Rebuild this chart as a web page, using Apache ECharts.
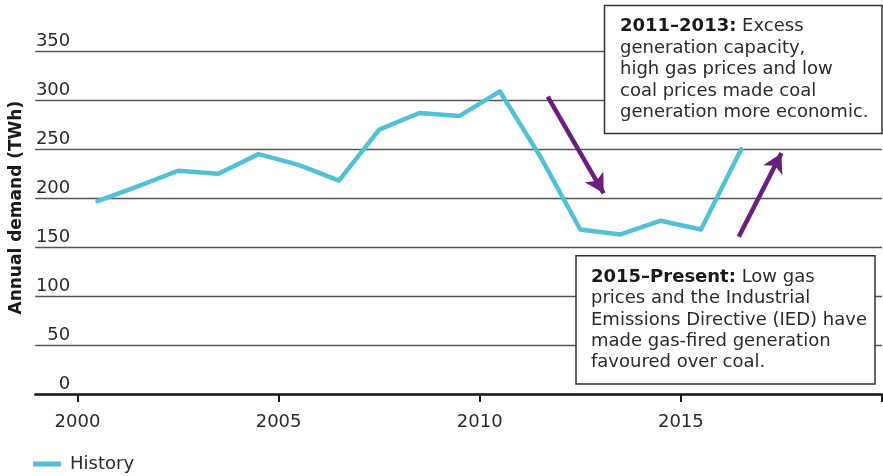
<!DOCTYPE html>
<html>
<head>
<meta charset="utf-8">
<script src="https://cdn.jsdelivr.net/npm/echarts@6/dist/echarts.min.js"></script>
<style>
html,body{margin:0;padding:0;background:#fff;}
#chart{width:883px;height:476px;}
</style>
</head>
<body>
<div id="chart"></div>
<script>
// ---- data ----
const years = [2000, 2001, 2002, 2003, 2004, 2005, 2006, 2007, 2008, 2009, 2010, 2011, 2012, 2013, 2014, 2015, 2016];
const history = [197, 212, 228, 225, 245, 234, 218, 270, 287, 284, 309, 243, 168, 163, 177, 168, 250];
const yTicks = [0, 50, 100, 150, 200, 250, 300, 350];
const xLabelYears = [2000, 2005, 2010, 2015];
const xTickYears = [2000, 2005, 2010, 2015, 2020];
const seriesName = 'History';
const yTitle = 'Annual demand (TWh)';
// annotation arrows in data space: [startYear, startValue, tipYear, tipValue]
const arrowDown = [2011.69, 303.7, 2013.08, 205];
const arrowUp = [2016.44, 160.7, 2017.5, 246];
const note1Bold = '2011–2013:';
const note1Lines = [' Excess', 'generation capacity,', 'high gas prices and low', 'coal prices made coal', 'generation more economic.'];
const note2Bold = '2015–Present:';
const note2Lines = [' Low gas', 'prices and the Industrial', 'Emissions Directive (IED) have', 'made gas-fired generation', 'favoured over coal.'];

// ---- chart ----
const FONT = 'DejaVu Sans';
const TXT = '#2b2b2b';
const chart = echarts.init(document.getElementById('chart'), null, {renderer: 'canvas'});

const lineData = years.map((y, i) => [y + 0.5, history[i]]);

function noteText(bold, lines) {
  return '{b|' + bold + '}' + lines[0] + '\n' + lines.slice(1).join('\n');
}

const option = {
  animation: false,
  backgroundColor: '#fff',
  grid: {left: 30, right: 1, top: 51.3, bottom: 82, containLabel: false},
  xAxis: {
    type: 'value',
    min: 1998.95,
    max: 2020,
    axisLine: {show: true, onZero: false, lineStyle: {color: '#1a1a1a', width: 2.5}},
    axisTick: {show: true, customValues: xTickYears, length: 8, lineStyle: {color: '#1a1a1a', width: 2}},
    axisLabel: {customValues: xLabelYears, formatter: v => String(v), margin: 19,
      fontFamily: FONT, fontSize: 18, color: TXT},
    splitLine: {show: false}
  },
  yAxis: {
    type: 'value',
    min: 0,
    max: 350,
    interval: 50,
    axisLine: {show: false},
    axisTick: {show: false},
    axisLabel: {margin: -35, align: 'right', verticalAlign: 'bottom', padding: [0, 0, 1, 0],
      fontFamily: FONT, fontSize: 18, color: TXT,
      formatter: v => (yTicks.indexOf(v) >= 0 ? String(v) : '')},
    splitLine: {show: true, lineStyle: {color: '#555', width: 1.3}},
    name: yTitle,
    nameLocation: 'middle',
    nameGap: 5,
    nameTextStyle: {fontFamily: FONT, fontSize: 17, fontWeight: 'bold', color: '#1a1a1a', padding: [0, 0, 0, 30]}
  },
  legend: {
    show: true,
    left: 33,
    top: 455,
    padding: 0,
    icon: 'rect',
    itemWidth: 28,
    itemHeight: 5,
    textStyle: {fontFamily: FONT, fontSize: 18, color: TXT, padding: [0, 0, 0, 4]},
    data: [seriesName]
  },
  series: [{
    name: seriesName,
    type: 'line',
    data: lineData,
    showSymbol: false,
    symbol: 'none',
    lineStyle: {color: '#52c1d6', width: 4.5, cap: 'round', join: 'round'},
    itemStyle: {color: '#52c1d6'},
    z: 3,
    markLine: {
      silent: true,
      symbol: ['none', 'arrow'],
      symbolSize: [16, 19],
      label: {show: false},
      lineStyle: {color: '#6a1f7e', width: 4.5, type: 'solid'},
      itemStyle: {color: '#6a1f7e'},
      emphasis: {disabled: true},
      data: [
        [{coord: [arrowDown[0], arrowDown[1]]}, {coord: [arrowDown[2], arrowDown[3]]}],
        [{coord: [arrowUp[0], arrowUp[1]]}, {coord: [arrowUp[2], arrowUp[3]]}]
      ]
    }
  }],
  graphic: [
    {type: 'rect', z: 10, shape: {x: 604.5, y: 5.5, width: 277.5, height: 128},
      style: {fill: '#fff', stroke: '#333', lineWidth: 1.5}},
    {type: 'text', z: 11, x: 620, y: 16,
      style: {text: noteText(note1Bold, note1Lines), fontFamily: FONT, fontSize: 18, lineHeight: 21.5,
        fill: TXT, verticalAlign: 'top', align: 'left',
        rich: {b: {fontFamily: FONT, fontSize: 18, fontWeight: 'bold', lineHeight: 21.5, fill: '#1a1a1a'}}}},
    {type: 'rect', z: 10, shape: {x: 576, y: 255.7, width: 299, height: 128.3},
      style: {fill: '#fff', stroke: '#333', lineWidth: 1.5}},
    {type: 'text', z: 11, x: 591, y: 267,
      style: {text: noteText(note2Bold, note2Lines), fontFamily: FONT, fontSize: 18, lineHeight: 21.2,
        fill: TXT, verticalAlign: 'top', align: 'left',
        rich: {b: {fontFamily: FONT, fontSize: 18, fontWeight: 'bold', lineHeight: 21.2, fill: '#1a1a1a'}}}}
  ]
};
chart.setOption(option);
</script>
</body>
</html>
